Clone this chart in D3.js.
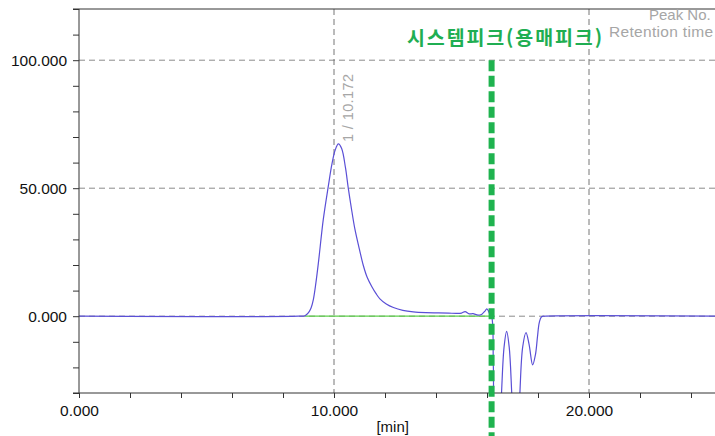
<!DOCTYPE html>
<html lang="ko">
<head>
    <meta charset="UTF-8">
    <title>Chromatogram</title>
    <script src="https://d3js.org/d3.v7.min.js"></script>
    <style>
        body { margin: 0; background: #fff; }
        svg { font-family: Arial, "Liberation Sans", Helvetica, sans-serif; display: block; }
    </style>
</head>
<body>
<script>
    // retention time [min] and detector signal
    const times = [0, 8.6, 8.86, 9.0, 9.1, 9.19, 9.29, 9.39, 9.58, 9.78, 9.92, 10.05, 10.172, 10.3, 10.45, 10.56,
        10.7, 10.82, 11.0, 11.15, 11.3, 11.48, 11.65, 11.8, 12.05, 12.33, 12.7, 13.11, 13.6, 14.1, 14.5, 14.8,
        15.0, 15.14, 15.3, 15.45, 15.65, 15.8, 15.92, 15.99, 16.05, 16.10, 16.18, 16.25, 16.35, 16.45, 16.57,
        16.67, 16.77, 16.87, 16.97, 17.10, 17.20, 17.29, 17.40, 17.53, 17.65, 17.79, 17.90, 17.98, 18.05, 18.14,
        18.3, 25];
    const signal = [0, 0, 0.2, 1.4, 3.2, 6.5, 13, 21, 37.8, 51, 59.5, 65, 67.3, 65.5, 58, 50,
        41, 34, 26, 19.8, 15.2, 11.6, 8.8, 6.8, 4.8, 3.4, 2.3, 1.7, 1.4, 1.3, 1.2, 1.1,
        1.2, 1.8, 0.9, 1.0, 0.4, 0.8, 2.0, 2.9, 2.2, 1.0, 0, -20, -60, -60, -30,
        -12, -5.9, -12, -30, -60, -55, -30, -12, -6.4, -11, -19, -15, -8, -2.5, -0.2,
        0, 0];

    const baselineTimes = [8.86, 16.12];   // integration baseline
    const systemPeakTime = 16.18;          // solvent / system peak marker
    const peakLabel = { time: 10.172, text: "1 / 10.172" };

    const yTicks = d3.range(-30, 121, 10);
    const yLabels = [0, 50, 100];
    const xTicks = d3.range(0, 25, 2);
    const xLabels = [0, 10, 20];
    const gridY = [0, 50, 100];
    const gridX = [10, 20];

    const W = 715, H = 436;
    const mLeft = 79, mTop = 9, mBottom = 393;

    const svg = d3.select("body").append("svg")
        .attr("width", W)
        .attr("height", H);

    const x = d3.scaleLinear().domain([0, 25]).range([mLeft, mLeft + 25 * 25.5]);
    const y = d3.scaleLinear().domain([-30, 120]).range([mBottom, mTop]);

    svg.append("defs").append("clipPath").attr("id", "plot")
        .append("rect")
        .attr("x", mLeft).attr("y", mTop)
        .attr("width", W - mLeft).attr("height", mBottom - mTop);

    // dashed grid
    svg.selectAll(".gy").data(gridY).join("line")
        .attr("x1", mLeft).attr("x2", W)
        .attr("y1", d => y(d)).attr("y2", d => y(d))
        .attr("stroke", "#8a8a8a").attr("stroke-dasharray", "6,4");
    svg.selectAll(".gx").data(gridX).join("line")
        .attr("x1", d => x(d)).attr("x2", d => x(d))
        .attr("y1", mTop).attr("y2", mBottom)
        .attr("stroke", "#777").attr("stroke-dasharray", "6,4");

    // baseline
    svg.append("path")
        .datum(baselineTimes)
        .attr("d", d3.line().x(d => x(d)).y(() => y(0)))
        .attr("fill", "none")
        .attr("stroke", "#5ccf4a")
        .attr("stroke-width", 1.3);

    // signal trace
    const pts = times.map((t, i) => [t, signal[i]]);
    svg.append("path")
        .datum(pts)
        .attr("clip-path", "url(#plot)")
        .attr("d", d3.line().x(d => x(d[0])).y(d => y(d[1])).curve(d3.curveCatmullRom.alpha(0.5)))
        .attr("fill", "none")
        .attr("stroke", "#5a4fd6")
        .attr("stroke-width", 1.2);

    // axes
    const yAxis = svg.append("g")
        .attr("transform", `translate(${mLeft},0)`)
        .call(d3.axisLeft(y).tickValues(yTicks).tickSize(6).tickPadding(6)
            .tickFormat(d => yLabels.includes(d) ? d3.format(".3f")(d) : ""));
    const xAxis = svg.append("g")
        .attr("transform", `translate(0,${mBottom})`)
        .call(d3.axisBottom(x).tickValues(xTicks).tickSize(5).tickPadding(7)
            .tickFormat(d => xLabels.includes(d) ? d3.format(".3f")(d) : ""));
    [yAxis, xAxis].forEach(g => {
        g.select(".domain").attr("stroke", "#333");
        g.selectAll(".tick line").attr("stroke", "#333");
        g.selectAll("text").attr("font-size", 15.5).attr("fill", "#111")
            .attr("font-family", "Arial, 'Liberation Sans', sans-serif");
    });
    yAxis.select(".domain").attr("d", `M-6,${y(-30)}H0V${y(120)}H-6`);
    xAxis.select(".domain").attr("d", `M${mLeft},0H${W}`);

    // top frame line
    svg.append("line")
        .attr("x1", mLeft).attr("x2", W)
        .attr("y1", mTop).attr("y2", mTop)
        .attr("stroke", "#333");

    svg.append("text")
        .attr("x", x(12.3)).attr("y", 432)
        .attr("text-anchor", "middle")
        .attr("font-size", 15).attr("fill", "#111")
        .text("[min]");

    // peak annotation
    svg.append("text")
        .attr("transform", `translate(${x(peakLabel.time) + 15},142) rotate(-90)`)
        .attr("font-size", 14.5).attr("fill", "#a6a6a6")
        .attr("textLength", 68)
        .attr("lengthAdjust", "spacing")
        .text(peakLabel.text);

    svg.append("text").attr("x", 649).attr("y", 20)
        .attr("font-size", 15).attr("fill", "#a6a6a6").text("Peak No.");
    svg.append("text").attr("x", 609).attr("y", 37)
        .attr("font-size", 15.5).attr("fill", "#a6a6a6")
        .attr("textLength", 104).attr("lengthAdjust", "spacing")
        .text("Retention time");

    // system peak marker
    svg.append("line")
        .attr("x1", x(systemPeakTime)).attr("x2", x(systemPeakTime))
        .attr("y1", y(100)).attr("y2", H)
        .attr("stroke", "#1fb34f")
        .attr("stroke-width", 6)
        .attr("stroke-dasharray", "11,4.5");

    svg.append("text")
        .attr("x", 407).attr("y", 45)
        .attr("font-family", "'Noto Sans CJK KR', sans-serif")
        .attr("font-weight", "bold")
        .attr("font-size", 19.5)
        .attr("fill", "#1fae52")
        .attr("textLength", 195)
        .attr("lengthAdjust", "spacing")
        .text("시스템피크(용매피크)");
</script>
</body>
</html>
